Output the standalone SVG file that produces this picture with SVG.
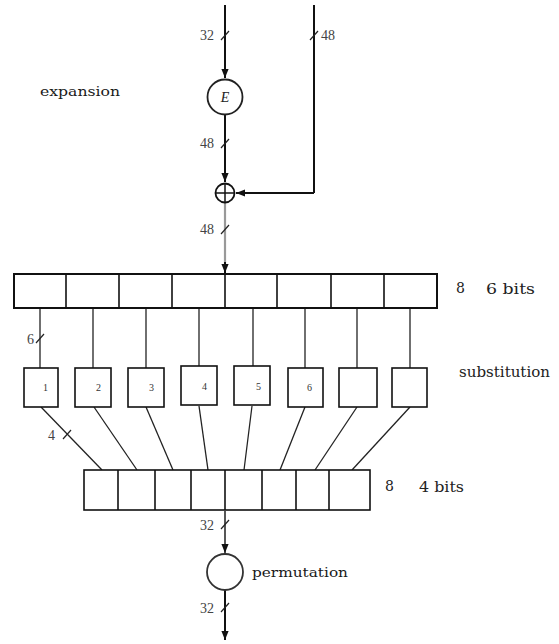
<svg xmlns="http://www.w3.org/2000/svg" width="559" height="644" viewBox="0 0 559 644">
<style>
.ln{stroke:#111;stroke-width:2;fill:none}
.thin{stroke:#222;stroke-width:1.3;fill:none}
.box{stroke:#111;stroke-width:2;fill:#fff}
.bx{stroke:#111;stroke-width:1.6;fill:#fff}
.num{font-family:"Liberation Serif","DejaVu Serif",serif;font-size:14px;fill:#444}
.sm{font-family:"Liberation Serif","DejaVu Serif",serif;font-size:10px;fill:#333}
.lab{font-family:"DejaVu Serif","Liberation Serif",serif;font-size:13px;fill:#1a1a1a}
.cnt{font-family:"DejaVu Serif","Liberation Serif",serif;font-size:14px;fill:#222}
.tick{stroke:#222;stroke-width:1.2}
</style>
<defs>
<marker id="ar" viewBox="0 0 10 10" refX="10" refY="5" markerWidth="9" markerHeight="9" markerUnits="userSpaceOnUse" orient="auto">
<path d="M0,1 L10,5 L0,9 z" fill="#111"/>
</marker>
</defs>
<g id="connectors">
<line class="ln" x1="225" y1="5" x2="225" y2="78" marker-end="url(#ar)"/>
<line class="ln" x1="314" y1="5" x2="314" y2="193"/>
<line class="ln" x1="314" y1="193" x2="236" y2="193" marker-end="url(#ar)"/>
<line class="ln" x1="225" y1="115" x2="225" y2="182" marker-end="url(#ar)"/>
<line x1="225" y1="203" x2="225" y2="265" stroke="#999" stroke-width="2.2"/>
<line class="ln" x1="225" y1="262" x2="225" y2="273" marker-end="url(#ar)"/>
<g class="thin">
<line x1="40" y1="308" x2="40" y2="368"/>
<line x1="93" y1="308" x2="93" y2="368"/>
<line x1="146" y1="308" x2="146" y2="368"/>
<line x1="199" y1="308" x2="199" y2="367"/>
<line x1="253" y1="308" x2="253" y2="367"/>
<line x1="305" y1="308" x2="305" y2="368"/>
<line x1="357" y1="308" x2="357" y2="368"/>
<line x1="410" y1="308" x2="410" y2="368"/>
<line x1="41" y1="407" x2="102" y2="470"/>
<line x1="94" y1="407" x2="137" y2="470"/>
<line x1="146" y1="407" x2="173" y2="470"/>
<line x1="199" y1="406" x2="208" y2="470"/>
<line x1="252" y1="406" x2="244" y2="470"/>
<line x1="305" y1="407" x2="280" y2="470"/>
<line x1="357" y1="407" x2="315" y2="470"/>
<line x1="410" y1="407" x2="352" y2="470"/>
</g>
<line x1="225" y1="511" x2="225" y2="553" stroke="#444" stroke-width="1.8" marker-end="url(#ar)"/>
<line class="ln" x1="225" y1="590" x2="225" y2="640" marker-end="url(#ar)"/>
<g class="tick">
<line x1="221" y1="40" x2="229" y2="31"/>
<line x1="310" y1="40" x2="318" y2="31"/>
<line x1="221" y1="148" x2="229" y2="139"/>
<line x1="221" y1="234" x2="229" y2="225"/>
<line x1="36" y1="343" x2="44" y2="334"/>
<line x1="63" y1="439" x2="71" y2="430"/>
<line x1="221" y1="529" x2="229" y2="520"/>
<line x1="221" y1="612" x2="229" y2="603"/>
</g>
<text class="num" x="200" y="40">32</text>
<text class="num" x="321" y="40">48</text>
<text class="num" x="200" y="148">48</text>
<text class="num" x="200" y="234">48</text>
<text class="num" x="27" y="344">6</text>
<text class="num" x="48" y="440">4</text>
<text class="num" x="200" y="530">32</text>
<text class="num" x="200" y="613">32</text>
</g>
<g id="expansion-label"><text class="lab" x="40" y="96" textLength="80" lengthAdjust="spacingAndGlyphs">expansion</text></g>
<g id="E">
<circle cx="225" cy="97" r="17.5" fill="#fff" stroke="#222" stroke-width="1.8"/>
<text x="225" y="102" text-anchor="middle" font-family="Liberation Serif,serif" font-style="italic" font-size="14" fill="#222">E</text>
</g>
<g id="xor">
<circle cx="225" cy="193" r="9.5" fill="#fff" stroke="#111" stroke-width="1.8"/>
<line x1="215.5" y1="193" x2="234.5" y2="193" stroke="#111" stroke-width="1.5"/>
<line x1="225" y1="183.5" x2="225" y2="202.5" stroke="#111" stroke-width="1.5"/>
</g>
<g id="row1">
<rect class="box" x="14" y="274" width="423" height="34"/>
<g class="bx">
<line x1="66" y1="274" x2="66" y2="308"/>
<line x1="119" y1="274" x2="119" y2="308"/>
<line x1="172" y1="274" x2="172" y2="308"/>
<line x1="225" y1="274" x2="225" y2="308"/>
<line x1="277" y1="274" x2="277" y2="308"/>
<line x1="331" y1="274" x2="331" y2="308"/>
<line x1="384" y1="274" x2="384" y2="308"/>
</g>
<text class="cnt" x="456" y="293" fill="#2a2a2a">8</text>
<text class="cnt" x="486" y="294" textLength="49" lengthAdjust="spacingAndGlyphs">6 bits</text>
</g>
<g id="sboxes">
<rect class="bx" x="24" y="368" width="34" height="39"/>
<rect class="bx" x="75" y="368" width="36" height="39"/>
<rect class="bx" x="128" y="368" width="36" height="39"/>
<rect class="bx" x="181" y="366" width="36" height="39"/>
<rect class="bx" x="234" y="366" width="36" height="39"/>
<rect class="bx" x="288" y="368" width="35" height="39"/>
<rect class="bx" x="339" y="368" width="38" height="39"/>
<rect class="bx" x="392" y="368" width="35" height="39"/>
<text class="sm" x="43" y="391">1</text>
<text class="sm" x="96" y="391">2</text>
<text class="sm" x="149" y="391">3</text>
<text class="sm" x="202" y="390">4</text>
<text class="sm" x="256" y="390">5</text>
<text class="sm" x="307" y="391">6</text>
<text class="cnt" x="459" y="377" textLength="91" lengthAdjust="spacingAndGlyphs">substitution</text>
</g>
<g id="row2">
<rect class="bx" x="84" y="470" width="286" height="40"/>
<g class="bx">
<line x1="118" y1="470" x2="118" y2="510"/>
<line x1="155" y1="470" x2="155" y2="510"/>
<line x1="191" y1="470" x2="191" y2="510"/>
<line x1="225" y1="470" x2="225" y2="510"/>
<line x1="262" y1="470" x2="262" y2="510"/>
<line x1="296" y1="470" x2="296" y2="510"/>
<line x1="329" y1="470" x2="329" y2="510"/>
</g>
<text class="cnt" x="385" y="491">8</text>
<text class="cnt" x="419" y="492" textLength="45" lengthAdjust="spacingAndGlyphs">4 bits</text>
</g>
<g id="permutation">
<circle cx="225" cy="572" r="18" fill="#fff" stroke="#333" stroke-width="1.8"/>
<text class="lab" x="252" y="577" textLength="96" lengthAdjust="spacingAndGlyphs">permutation</text>
</g>
</svg>
